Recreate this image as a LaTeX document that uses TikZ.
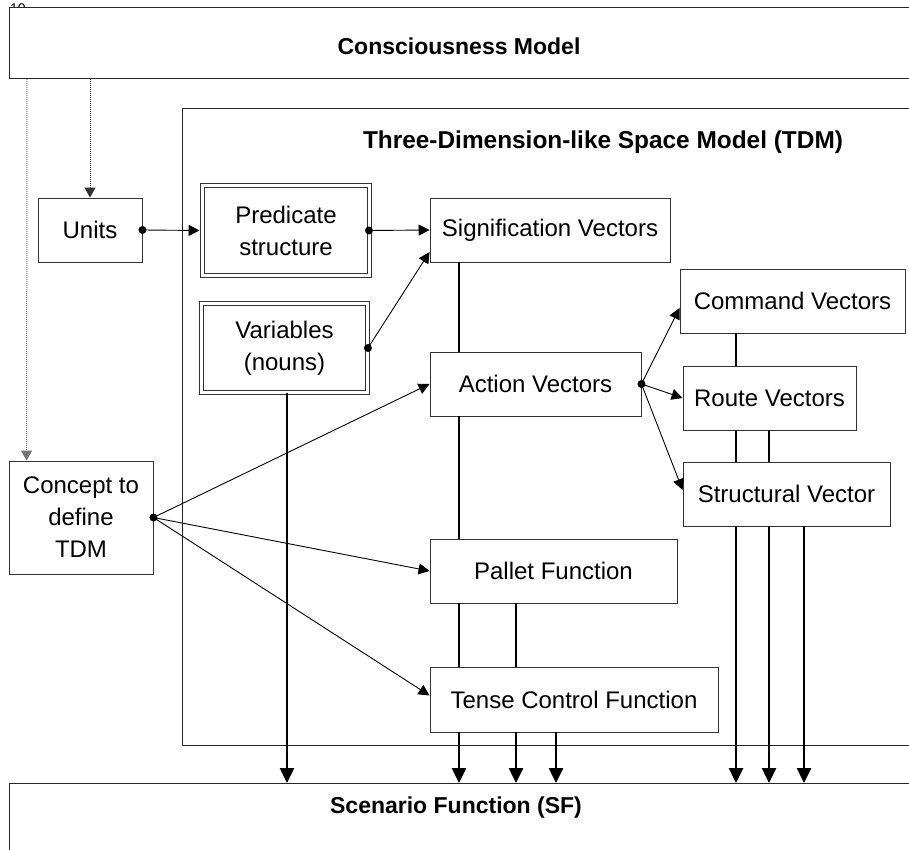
\documentclass[tikz,border=0pt]{standalone}
\usepackage{fontspec}
\setmainfont{Liberation Sans}
\usetikzlibrary{arrows.meta}
\begin{document}
\begin{tikzpicture}[x=1pt,y=-1pt,
  box/.style={draw=black!80, line width=0.9pt, fill=white, inner sep=0pt,
    align=center, font=\fontsize{24}{32}\selectfont},
  dbox/.style={box, double, double distance=3.2pt},
  frame/.style={draw=black!85, line width=0.9pt, fill=white, inner sep=0pt},
  title/.style={font=\fontsize{23}{28}\selectfont\bfseries, inner sep=0pt},
  conn/.style={line width=0.9pt, -{Triangle[length=11pt,width=11pt]}},
  bus/.style={line width=2.5pt},
  busarrow/.style={line width=2.5pt, -{Triangle[length=15pt,width=14pt]}},
  hint/.style={densely dotted, line width=1pt, -{Triangle[length=10pt,width=11pt]}},
  dot/.style={fill=black}
]
\useasboundingbox (0,0) rectangle (909,850);
\clip (0,0) rectangle (909,850);

% page number, partly hidden by the top frame
\node[anchor=base, inner sep=0pt, font=\fontsize{14}{14}\selectfont] (pg) at (18,14) {10};

% outer frames
\node[frame, minimum width=920pt, minimum height=71pt, anchor=north west] (cm) at (9,7) {};
\node[title] (cmt) at (459,46) {Consciousness Model};

\node[frame, minimum width=900pt, minimum height=637pt, anchor=north west] (tdm) at (182,108) {};
\node[title, font=\fontsize{24.4}{28}\selectfont\bfseries] (tdmt) at (603,142) {Three-Dimension-like Space Model (TDM)};

\node[frame, minimum width=920pt, minimum height=120pt, anchor=north west] (sf) at (9,783) {};
\node[title] (sft) at (456,808) {Scenario Function (SF)};

% boxes
\node[box, minimum width=104pt, minimum height=64pt] (units) at (90,230) {Units};
\node[dbox, minimum width=167pt, minimum height=90pt] (pred) at (286,230.5) {Predicate\\structure};
\node[dbox, minimum width=166pt, minimum height=89pt] (var) at (284.5,348) {Variables\\(nouns)};
\node[box, minimum width=240pt, minimum height=64pt] (sig) at (550,230) {Signification Vectors};
\node[box, minimum width=225pt, minimum height=64pt] (cmd) at (792.5,301) {Command Vectors};
\node[box, minimum width=211pt, minimum height=64pt] (act) at (535.5,384) {Action Vectors};
\node[box, minimum width=173pt, minimum height=64pt] (route) at (769.5,398) {Route Vectors};
\node[box, minimum width=207pt, minimum height=64pt] (str) at (786.5,494) {Structural Vector};
\node[box, minimum width=144pt, minimum height=113pt] (conc) at (81,517.5) {Concept to\\define\\TDM};
\node[box, minimum width=247pt, minimum height=64pt] (pal) at (553.5,571) {Pallet Function};
\node[box, minimum width=288pt, minimum height=65pt] (ten) at (574,699.5) {Tense Control Function};

% dotted links from the consciousness model
\draw[hint, draw=black!55] ([xshift=18pt]cm.south west) -- ([xshift=18pt]conc.north west);
\draw[hint, draw=black!80] (cm.south -| units.north) -- (units.north);

% thin links
\draw[conn, shorten >=2.5pt] (units.east) -- (pred.west);
\fill[dot] (units.east) circle (4pt);
\draw[conn] ([xshift=-1pt]pred.east) -- (sig.west);
\fill[dot] ([xshift=-1pt]pred.east) circle (4pt);
\draw[conn] (var.east) -- ([yshift=-22pt]sig.west);
\fill[dot] (var.east) circle (4pt);

\draw[conn] (act.east) -- ([yshift=-7pt]cmd.west);
\draw[conn] (act.east) -- (route.west);
\draw[conn] (act.east) -- ([yshift=4pt]str.west);
\fill[dot] (act.east) circle (4pt);

\draw[conn] (conc.east) -- (act.west);
\draw[conn] (conc.east) -- (pal.west);
\draw[conn] (conc.east) -- ([yshift=4pt]ten.west);
\fill[dot] (conc.east) circle (4pt);

% vertical buses
\coordinate (b0) at (287,0);
\coordinate (b1) at (459,0);
\coordinate (b2) at (516,0);
\coordinate (b3) at (556,0);
\coordinate (b4) at (736,0);
\coordinate (b5) at (769,0);
\coordinate (b6) at (804,0);

\draw[busarrow] (var.south -| b0) -- (sf.north -| b0);

\draw[bus] (sig.south -| b1) -- (act.north -| b1);
\draw[bus] (act.south -| b1) -- (pal.north -| b1);
\draw[bus] (pal.south -| b1) -- (ten.north -| b1);
\draw[bus] (pal.south -| b2) -- (ten.north -| b2);
\draw[busarrow] (ten.south -| b1) -- (sf.north -| b1);
\draw[busarrow] (ten.south -| b2) -- (sf.north -| b2);
\draw[busarrow] (ten.south -| b3) -- (sf.north -| b3);

\draw[bus] (cmd.south -| b4) -- (route.north -| b4);
\draw[bus] (route.south -| b4) -- (str.north -| b4);
\draw[bus] (route.south -| b5) -- (str.north -| b5);
\draw[busarrow] (str.south -| b4) -- (sf.north -| b4);
\draw[busarrow] (str.south -| b5) -- (sf.north -| b5);
\draw[busarrow] (str.south -| b6) -- (sf.north -| b6);
\end{tikzpicture}
\end{document}
